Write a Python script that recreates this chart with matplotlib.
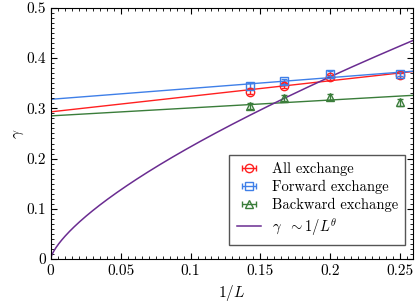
import numpy as np
import matplotlib
matplotlib.use('Agg')
import matplotlib.pyplot as plt
from matplotlib.ticker import MultipleLocator, FuncFormatter

plt.rcParams['font.family'] = 'serif'
plt.rcParams['font.serif'] = ['cmr10']
plt.rcParams['mathtext.fontset'] = 'cm'
plt.rcParams['axes.formatter.use_mathtext'] = True

# data
invL = [1/7, 1/6, 1/5, 1/4]
g_all = [0.333, 0.345, 0.362, 0.366]
e_all = [0.005, 0.005, 0.005, 0.005]
g_fwd = [0.345, 0.354, 0.369, 0.369]
e_fwd = [0.005, 0.005, 0.005, 0.004]
g_bwd = [0.305, 0.320, 0.322, 0.312]
e_bwd = [0.006, 0.006, 0.006, 0.007]

# linear fits (intercept, slope)
fit_all = [0.293, 0.31]
fit_fwd = [0.318, 0.216]
fit_bwd = [0.285, 0.158]

# power law gamma = a * x^theta
pw_a = 1.12
pw_theta = 0.7

c_red = '#ff2020'
c_blue = '#3f7fe8'
c_green = '#3a7d3a'
c_purple = '#6a2c91'

xmax = 0.259

fig = plt.figure(figsize=(4.15, 3.03), dpi=100)
ax = fig.add_axes([0.122, 0.145, 0.873, 0.829])

xx = np.linspace(0, xmax, 400)
ax.plot(xx, pw_a * xx**pw_theta, color=c_purple, lw=1.1, zorder=2)
ax.plot(xx, fit_all[0] + fit_all[1]*xx, color=c_red, lw=1.0, zorder=1)
ax.plot(xx, fit_fwd[0] + fit_fwd[1]*xx, color=c_blue, lw=1.0, zorder=1)
ax.plot(xx, fit_bwd[0] + fit_bwd[1]*xx, color=c_green, lw=1.0, zorder=1)

series = [
    (g_all, e_all, 'o', c_red),
    (g_fwd, e_fwd, 's', c_blue),
    (g_bwd, e_bwd, '^', c_green),
]
handles = []
for g, e, m, c in series:
    ax.errorbar(invL, g, yerr=e, fmt=m, ms=6, mfc='none', mec=c, ecolor=c,
                capsize=2.5, elinewidth=1.0, mew=1.0, zorder=3)
    # proxy for legend: horizontal bar with caps
    h = ax.errorbar([np.nan], [np.nan], xerr=[0.0], fmt=m, ms=6, mfc='none', mec=c,
                    ecolor=c, capsize=2.5, elinewidth=1.0, mew=1.0)
    handles.append(h)

handles.append(ax.get_lines()[0])
labels = ['All exchange', 'Forward exchange', 'Backward exchange', r'$\gamma\ \ \sim 1/L^\theta$']
leg = ax.legend(handles=handles, labels=labels,
                loc='lower right', bbox_to_anchor=(0.978, 0.056), borderaxespad=0,
                fontsize=10.5, fancybox=False, framealpha=1, edgecolor='#555555',
                handlelength=1.7, handletextpad=0.7, borderpad=0.5, labelspacing=0.25)
leg.get_frame().set_linewidth(1.0)

ax.set_xlim(0, xmax)
ax.set_ylim(0, 0.5)
ax.xaxis.set_major_locator(MultipleLocator(0.05))
ax.xaxis.set_minor_locator(MultipleLocator(0.005))
ax.yaxis.set_major_locator(MultipleLocator(0.1))
ax.yaxis.set_minor_locator(MultipleLocator(0.01))
fmt = FuncFormatter(lambda v, p: '%g' % round(v, 4))
ax.xaxis.set_major_formatter(fmt)
ax.yaxis.set_major_formatter(fmt)
ax.tick_params(which='both', direction='in', top=True, right=True, labelsize=11)
ax.tick_params(which='major', length=4, width=0.8)
ax.tick_params(which='minor', length=2, width=0.6)
ax.set_xlabel(r'$1/L$', fontsize=11, labelpad=4)
ax.set_ylabel(r'$\gamma$', fontsize=11, labelpad=0)

fig.savefig('out.png', dpi=100)
